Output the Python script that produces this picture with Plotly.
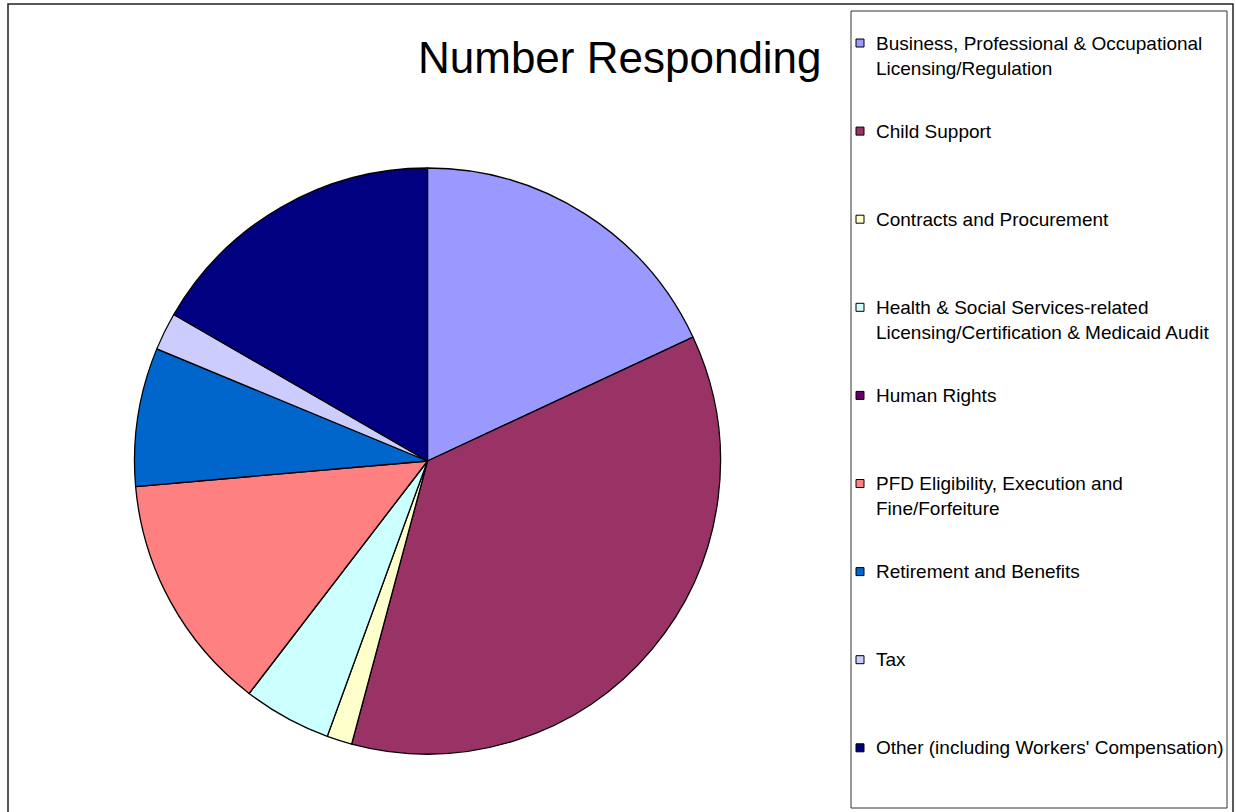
import plotly.graph_objects as go

# Survey responses by case type
categories = [
    "Business, Professional & Occupational<br>Licensing/Regulation",
    "Child Support",
    "Contracts and Procurement",
    "Health & Social Services-related<br>Licensing/Certification & Medicaid Audit",
    "Human Rights",
    "PFD Eligibility, Execution and<br>Fine/Forfeiture",
    "Retirement and Benefits",
    "Tax",
    "Other (including Workers' Compensation)",
]
responses = [26, 52, 2, 7, 0, 19, 11, 3, 24]
colors = ["#9999FF", "#993366", "#FFFFCC", "#CCFFFF", "#660066",
          "#FF8080", "#0066CC", "#CCCCFF", "#000080"]
chart_title = "Number Responding"

W, H = 1236, 812
FONT = "Arial, Liberation Sans, sans-serif"


def px_x(x):
    return x / W


def px_y(y):
    return 1 - y / H


# pie centred at (427.5, 461) with radius 293 px
cx, cy, r = 427.5, 461, 293

fig = go.Figure(go.Pie(
    labels=[c.replace("<br>", " ") for c in categories],
    values=responses,
    marker=dict(colors=colors, line=dict(color="black", width=1.3)),
    sort=False,
    direction="clockwise",
    rotation=0,
    textinfo="none",
    hoverinfo="label+value",
    showlegend=False,
    domain=dict(x=[px_x(cx - r), px_x(cx + r)],
                y=[px_y(cy + r), px_y(cy - r)]),
))

shapes = [
    # chart frame
    dict(type="rect", xref="paper", yref="paper",
         x0=px_x(8), x1=px_x(1233), y0=px_y(830), y1=px_y(4),
         line=dict(color="#222222", width=1.5), fillcolor="rgba(0,0,0,0)"),
    # legend frame
    dict(type="rect", xref="paper", yref="paper",
         x0=px_x(851), x1=px_x(1227), y0=px_y(808), y1=px_y(11),
         line=dict(color="#333333", width=1), fillcolor="rgba(0,0,0,0)"),
]
annotations = [
    dict(text=chart_title, xref="paper", yref="paper",
         x=px_x(416), y=px_y(58), xanchor="left", yanchor="middle",
         showarrow=False, font=dict(family=FONT, size=44, color="black")),
]

# hand-laid legend: evenly spaced entries, swatch beside the first line
first_y, step, line_gap = 42, 88.1, 25
for i, (label, col) in enumerate(zip(categories, colors)):
    y0 = first_y + i * step
    shapes.append(dict(
        type="rect", xref="paper", yref="paper",
        x0=px_x(856), x1=px_x(864), y0=px_y(y0 + 5), y1=px_y(y0 - 3),
        line=dict(color="black", width=1), fillcolor=col))
    for j, part in enumerate(label.split("<br>")):
        annotations.append(dict(
            text=part, xref="paper", yref="paper",
            x=px_x(874), y=px_y(y0 + j * line_gap + 1),
            xanchor="left", yanchor="middle", showarrow=False,
            font=dict(family=FONT, size=19, color="black")))

fig.update_layout(
    width=W, height=H,
    margin=dict(l=0, r=0, t=0, b=0),
    paper_bgcolor="white",
    plot_bgcolor="white",
    shapes=shapes,
    annotations=annotations,
)

fig.write_html("out.html")
